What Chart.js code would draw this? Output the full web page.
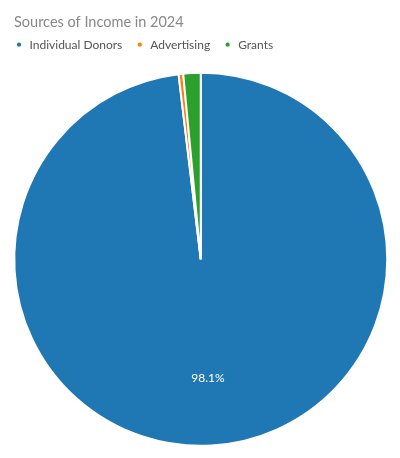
<!DOCTYPE html>
<html>
<head>
<meta charset="utf-8">
<script src="https://cdn.jsdelivr.net/npm/chart.js@4"></script>
<style>
  html, body { margin: 0; padding: 0; background: #fff; }
  #wrap { width: 400px; height: 458px; }
</style>
</head>
<body>
<div id="wrap"><canvas id="pie-chart" width="400" height="458"></canvas></div>
<script>
const labels = ['Individual Donors', 'Advertising', 'Grants'];
const shares = [98.1, 0.4, 1.5];
const colors = ['#1f77b4', '#ff7f0e', '#2ca02c'];

// draws the percent text inside the big slice
const pctLabels = {
    id: 'pctLabels',
    afterDatasetsDraw(chart) {
        const ctx = chart.ctx;
        const meta = chart.getDatasetMeta(0);
        meta.data.forEach(function(arc, i) {
            if (shares[i] < 5) return;
            const mid = (arc.startAngle + arc.endAngle) / 2;
            const r = arc.outerRadius * 0.64;
            ctx.save();
            ctx.fillStyle = '#fff';
            ctx.font = '12px Lato, sans-serif';
            ctx.textAlign = 'center';
            ctx.textBaseline = 'middle';
            ctx.fillText(shares[i].toFixed(1) + '%', arc.x + Math.cos(mid) * r, arc.y + Math.sin(mid) * r);
            ctx.restore();
        });
    }
};

// title sits a bit more to the right than the legend
const titleShift = {
    id: 'titleShift',
    afterLayout(chart) {
        if (chart.titleBlock) chart.titleBlock.left += 12.5;
    }
};

const ctx = document.getElementById('pie-chart').getContext('2d');
new Chart(ctx, {
    type: 'pie',
    data: {
        labels: labels,
        datasets: [{
            data: shares,
            backgroundColor: colors,
            borderColor: '#fff',
            borderWidth: 2,
            radius: 186.5
        }]
    },
    options: {
        responsive: false,
        animation: false,
        layout: { padding: { top: 4, left: 1.5, right: 0, bottom: 0 } },
        plugins: {
            title: {
                display: true,
                text: 'Sources of Income in 2024',
                align: 'start',
                color: '#888',
                font: { family: 'Lato, sans-serif', size: 14.5, weight: 'normal' },
                padding: { top: 9.5, bottom: -5.2 }
            },
            legend: {
                display: true,
                align: 'start',
                labels: {
                    usePointStyle: true,
                    pointStyle: 'circle',
                    boxWidth: 9,
                    boxHeight: 4.4,
                    color: '#555',
                    font: { family: 'Lato, sans-serif', size: 12 },
                    padding: 13
                }
            },
            tooltip: { enabled: false }
        }
    },
    plugins: [pctLabels, titleShift]
});
</script>
</body>
</html>
